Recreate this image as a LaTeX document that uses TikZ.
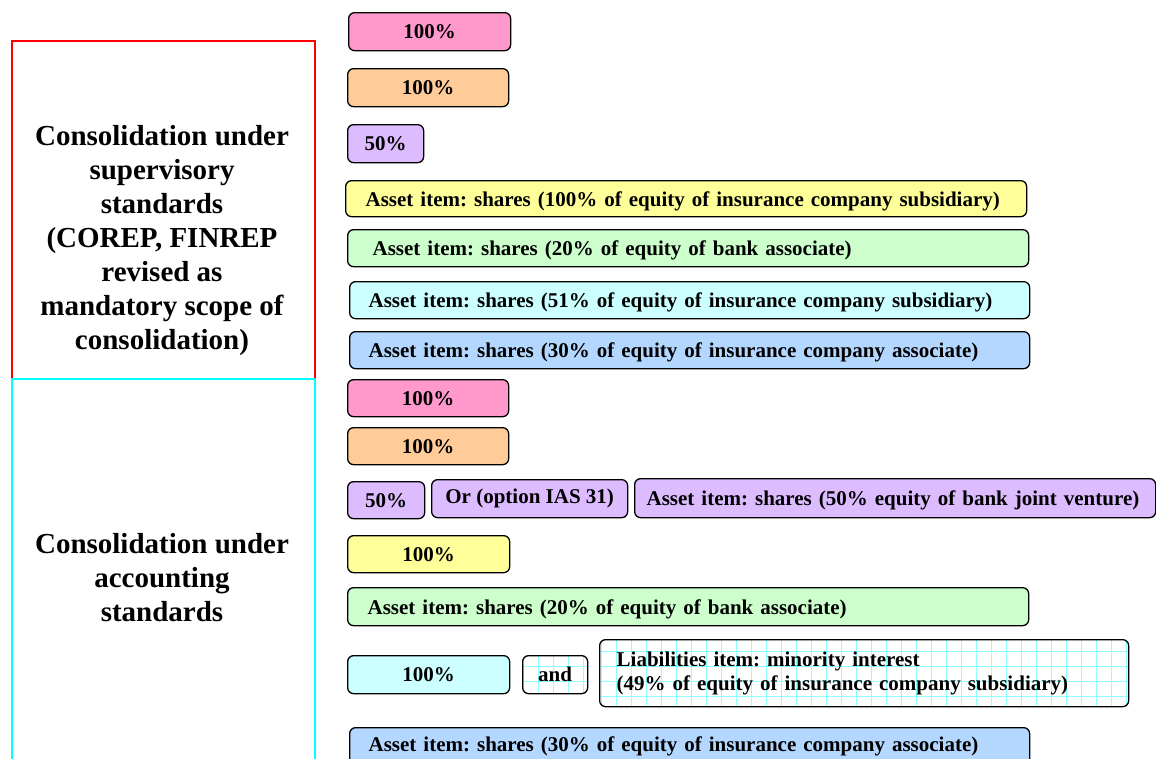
\documentclass[tikz,border=0pt]{standalone}
\usepackage{fontspec}
\setmainfont{Liberation Serif}
\frenchspacing
\definecolor{cpink}{HTML}{FF99CC}
\definecolor{corange}{HTML}{FFCC99}
\definecolor{cpurple}{HTML}{DDBBFF}
\definecolor{cyellow}{HTML}{FFFF99}
\definecolor{cgreen}{HTML}{CCFFCC}
\definecolor{ccyan}{HTML}{CCFFFF}
\definecolor{cblue}{HTML}{B3D7FF}
\definecolor{cgrid}{HTML}{90FFFF}
\newcommand{\labfont}{\bfseries\fontsize{21}{24}\selectfont}
\newcommand{\bigfont}{\bfseries\fontsize{29}{34}\selectfont}
\begin{document}
\begin{tikzpicture}[x=1pt,y=-1pt,
  box/.style={draw=black, line width=1.3pt, rounded corners=6pt, inner sep=0pt,
    font=\labfont, anchor=north west},
  cbox/.style={box, minimum width=#1},
  wbox/.style={box, align=left, text height=20pt, text depth=5pt},
  gridbox/.style={box, fill=white, path picture={
      \draw[cgrid, line width=1.3pt] ([shift={(-20pt,-20pt)}]path picture bounding box.south west)
        grid[xstep=15pt, ystep=15pt] ([shift={(20pt,20pt)}]path picture bounding box.north east);}},
  frame/.style={draw, line width=2.2pt}]
\useasboundingbox (0,0) rectangle (1156,758);

% left frames
\node[frame, draw=red, minimum width=303pt, minimum height=338pt, anchor=north west,
  inner sep=0pt] (sup) at (11,40) {};
\node[frame, draw={rgb,255:red,0;green,255;blue,255}, minimum width=303pt, minimum height=400pt,
  anchor=north west, inner sep=0pt] (acc) at (11,378) {};
\node[font=\bigfont, align=center] (suptxt) at (162,241)
  {Consolidation under\\supervisory\\standards\\(COREP, FINREP\\revised as\\mandatory scope of\\consolidation)};
\node[font=\bigfont, align=center] (acctxt) at (162,578)
  {Consolidation under\\accounting\\standards};

% supervisory column
\node[cbox=162pt, fill=cpink, minimum height=38pt] (a1) at (348,12) {100\%};
\node[cbox=161pt, fill=corange, minimum height=38pt] (a2) at (347,68) {100\%};
\node[cbox=76pt, fill=cpurple, minimum height=38pt] (a3) at (347,124) {50\%};
\node[wbox, fill=cyellow, minimum height=36pt, inner xsep=20pt, text width=641pt]
  (a4) at (345,180) {Asset item: shares (100\% of equity of insurance company subsidiary)};
\node[wbox, fill=cgreen, minimum height=37pt, inner xsep=25pt, text width=631pt]
  (a5) at (347,229) {Asset item: shares (20\% of equity of bank associate)};
\node[wbox, fill=ccyan, minimum height=37pt, inner xsep=19pt, text width=642pt]
  (a6) at (349,281) {Asset item: shares (51\% of equity of insurance company subsidiary)};
\node[wbox, fill=cblue, minimum height=37pt, inner xsep=19pt, text width=642pt]
  (a7) at (349,331) {Asset item: shares (30\% of equity of insurance company associate)};

% accounting column
\node[cbox=161pt, fill=cpink, minimum height=37pt] (b1) at (347,379) {100\%};
\node[cbox=161pt, fill=corange, minimum height=37pt] (b2) at (347,427) {100\%};
\node[cbox=77pt, fill=cpurple, minimum height=37pt] (b3) at (347,481) {50\%};
\node[cbox=196pt, fill=cpurple, minimum height=38pt] (b4) at (431,479) {Or (option IAS 31)};
\node[wbox, fill=cpurple, minimum height=39pt, inner xsep=12pt, text width=497pt]
  (b5) at (634,478) {Asset item: shares (50\% equity of bank joint venture)};
\node[cbox=162pt, fill=cyellow, minimum height=37pt] (b6) at (347,535) {100\%};
\node[wbox, fill=cgreen, minimum height=38pt, inner xsep=20pt, text width=641pt]
  (b7) at (347,587) {Asset item: shares (20\% of equity of bank associate)};
\node[cbox=162pt, fill=ccyan, minimum height=38pt] (b8) at (347,655) {100\%};
\node[gridbox, minimum width=65pt, minimum height=38pt] (b9) at (522,655) {and};
\node[gridbox, minimum height=67pt, inner xsep=17pt, text width=495pt, align=left]
  (b10) at (599,639) {Liabilities item: minority interest\\(49\% of equity of insurance company subsidiary)};
\node[box, fill=cblue, minimum height=38pt, inner xsep=19pt, text width=642pt, align=left]
  (b11) at (349,727) {Asset item: shares (30\% of equity of insurance company associate)};
\end{tikzpicture}
\end{document}
